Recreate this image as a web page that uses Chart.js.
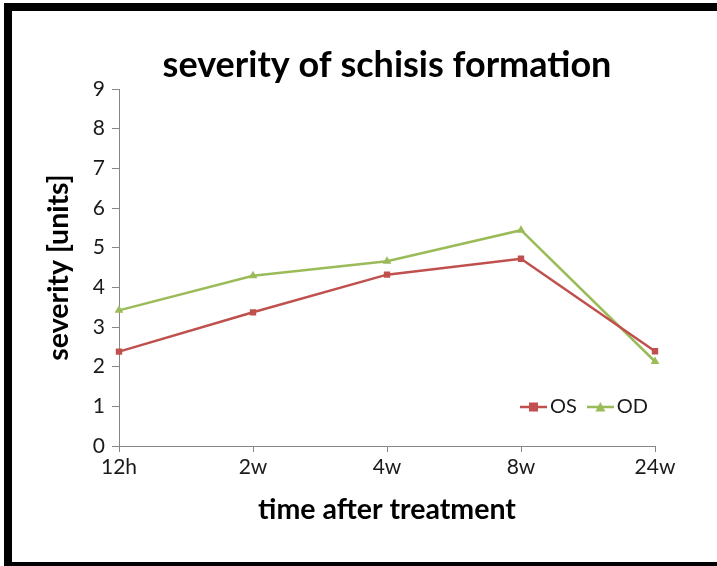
<!DOCTYPE html>
<html>
<head>
<meta charset="utf-8">
<script src="https://cdn.jsdelivr.net/npm/chart.js@4"></script>
<style>
  html, body { margin: 0; padding: 0; background: #fff; }
  body { width: 717px; height: 566px; position: relative; overflow: hidden; }
  #frame { position: absolute; left: 4px; top: 3px; width: 713px; height: 563px; box-sizing: border-box;
           border-left: 8px solid #000; border-top: 8px solid #000; border-bottom: 4px solid #000; background: #fff; }
  #wrap { position: absolute; left: 12px; top: 11px; width: 705px; height: 551px; }
</style>
</head>
<body>
<div id="frame"></div>
<div id="wrap"><canvas id="c" width="705" height="551"></canvas></div>
<script>
const categories = ['12h', '2w', '4w', '8w', '24w'];
const osValues = [2.38, 3.37, 4.32, 4.72, 2.39];
const odValues = [3.42, 4.29, 4.66, 5.44, 2.13];
const yTickValues = [0, 1, 2, 3, 4, 5, 6, 7, 8, 9];
const seriesNames = ['OS', 'OD'];
const titleText = 'severity of schisis formation';
const xTitle = 'time after treatment';
const yTitle = 'severity [units]';

const RED = '#C0504D';
const GREEN = '#9BBB59';
const AXIS = '#868686';
const TEXT = '#1a1a1a';

function legendIcon(color, shape) {
  const cv = document.createElement('canvas');
  cv.width = 27; cv.height = 12;
  const g = cv.getContext('2d');
  g.strokeStyle = color; g.lineWidth = 2.5;
  g.beginPath(); g.moveTo(0, 6); g.lineTo(27, 6); g.stroke();
  g.fillStyle = color;
  if (shape === 'rect') {
    g.fillRect(9, 1.5, 9, 9);
  } else {
    g.beginPath(); g.moveTo(13.5, 1); g.lineTo(18.5, 10.5); g.lineTo(8.5, 10.5); g.closePath(); g.fill();
  }
  return cv;
}
const icons = [legendIcon(RED, 'rect'), legendIcon(GREEN, 'triangle')];

const legendMover = {
  id: 'legendMover',
  beforeLayout(chart) {
    if (chart.legend) chart.legend.isHorizontal = () => true;
  },
  afterLayout(chart) {
    const lg = chart.legend;
    if (!lg) return;
    const pad = lg.options.labels.padding;
    const h = lg.height;
    lg.left = 515 - pad; lg.right = lg.left + 190; lg.width = 190;
    lg.top = 396 - 10 - pad; lg.bottom = lg.top + h;
  }
};

new Chart(document.getElementById('c'), {
  type: 'line',
  data: {
    labels: categories,
    datasets: [
      { label: seriesNames[0], data: osValues, borderColor: RED, backgroundColor: RED,
        borderWidth: 2.5, pointStyle: 'rect', pointRadius: 4.5, pointBorderWidth: 0, tension: 0 },
      { label: seriesNames[1], data: odValues, borderColor: GREEN, backgroundColor: GREEN,
        borderWidth: 2.5, pointStyle: 'triangle', pointRadius: 5, pointBorderWidth: 0, tension: 0 }
    ]
  },
  options: {
    responsive: false,
    animation: false,
    layout: { padding: { left: 0, right: 62, top: 0, bottom: 0 } },
    plugins: {
      title: { display: true, fullSize: false, text: titleText, color: '#000',
               font: { family: 'Lato', size: 36, weight: 'bold', lineHeight: 1 },
               padding: { top: 36, bottom: 6 } },
      legend: {
        position: 'chartArea', align: 'start',
        labels: {
          usePointStyle: true, pointStyleWidth: 13, padding: 17, color: TEXT,
          font: { family: 'Lato', size: 20 },
          generateLabels: (chart) => chart.data.datasets.map((ds, i) => ({
            text: ds.label, pointStyle: icons[i], fillStyle: ds.borderColor,
            strokeStyle: ds.borderColor, lineWidth: 0, hidden: false, datasetIndex: i, fontColor: TEXT
          }))
        }
      },
      tooltip: { enabled: false }
    },
    scales: {
      x: {
        type: 'category', offset: false,
        grid: { display: true, drawOnChartArea: false, drawTicks: true, tickLength: 6, color: AXIS },
        border: { display: true, color: AXIS, width: 1 },
        ticks: { color: TEXT, font: { family: 'Lato', size: 21 }, padding: 3, maxRotation: 0, autoSkip: false },
        title: { display: true, text: xTitle, color: '#000', font: { family: 'Lato', size: 28.5, weight: 'bold' },
                 padding: { top: 0, bottom: 35 } },
        afterFit: (s) => { s.height = 116; }
      },
      y: {
        min: 0, max: 9,
        grid: { display: true, drawOnChartArea: false, drawTicks: true, tickLength: 7, color: AXIS },
        border: { display: true, color: AXIS, width: 1 },
        ticks: { color: TEXT, font: { family: 'Lato', size: 21 }, padding: 7, stepSize: 1,
                 callback: (v) => yTickValues.includes(v) ? String(v) : '' },
        title: { display: true, text: yTitle, color: '#000', font: { family: 'Lato', size: 28.5, weight: 'bold' },
                 padding: { top: 30, bottom: 0 } },
        afterFit: (s) => { s.width = 107; }
      }
    }
  },
  plugins: [legendMover]
});
</script>
</body>
</html>
